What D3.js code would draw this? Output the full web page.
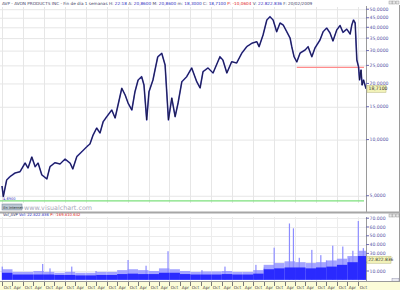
<!DOCTYPE html>
<html>
<head>
<meta charset="utf-8">
<script src="https://cdn.jsdelivr.net/npm/d3@7"></script>
<style>
  body { margin: 0; background: #fff; }
  svg { display: block; font-family: "DejaVu Sans", sans-serif; }
</style>
</head>
<body>
<div id="chart"></div>
<script>
'use strict';

// weekly closes (decimal years / price)
const priceYears = [1991.75,1991.81,1991.97,1992.13,1992.37,1992.61,1992.85,1992.99,1993.17,1993.33,
  1993.47,1993.65,1993.89,1994.04,1994.28,1994.52,1994.76,1995.00,1995.13,1995.32,
  1995.56,1995.80,1995.95,1996.10,1996.27,1996.43,1996.58,1996.75,1996.99,1997.15,
  1997.29,1997.47,1997.63,1997.77,1997.95,1998.10,1998.25,1998.42,1998.53,1998.66,
  1998.77,1998.96,1999.05,1999.19,1999.38,1999.54,1999.70,1999.86,2000.02,2000.16,
  2000.34,2000.57,2000.81,2001.05,2001.21,2001.35,2001.59,2001.83,2002.16,2002.30,
  2002.49,2002.72,2002.96,2003.20,2003.44,2003.68,2003.92,2004.03,2004.22,2004.40,
  2004.55,2004.70,2004.87,2005.03,2005.18,2005.35,2005.51,2005.59,2005.70,2005.83,
  2005.99,2006.23,2006.37,2006.55,2006.70,2006.94,2007.09,2007.26,2007.42,2007.56,
  2007.74,2007.90,2008.04,2008.22,2008.38,2008.46,2008.54,2008.62,2008.70,2008.78,
  2008.83,2008.90,2008.95,2009.02,2009.14];
const priceClose = [5.64,4.95,6.07,6.33,6.62,6.73,7.49,7.04,8.07,7.16,
  7.49,6.46,6.15,7.16,7.52,7.40,7.87,7.49,6.96,8.10,
  8.61,9.16,9.47,10.58,11.54,10.85,12.47,13.27,14.41,13.06,
  15.33,18.84,17.34,15.71,14.41,18.06,20.87,21.74,19.62,12.74,
  18.06,20.87,23.4,27.8,29.02,25.12,12.74,16.7,13.27,15.71,
  20.44,21.74,24.21,20.44,18.91,23.12,24.21,22.76,27.83,26.72,
  22.76,26.16,25.75,29.02,31.49,32.83,33.49,31.49,36.38,43.78,
  45.60,43.78,37.89,42.19,41.16,37.89,35.05,31.49,27.83,26.07,
  29.12,30.23,31.49,27.83,30.99,34.20,37.89,39.66,37.29,33.8,
  38.69,40.9,37.6,39.1,36.8,41.16,43.78,42.19,26.72,24.60,
  20.87,23.62,19.62,20.87,18.71];

// volume (millions of shares): typical level per half year, starting Oct 1991
const volBase = [8,6,6,6,6,5.5,5.5,5,5,5.5,5.5,6.5,7,6.5,6.5,8,8,6.5,6,6,
  6,6.5,6,6,7,12,13,14,14,13,14,15,17,20,27];
const volTop = [12,9,9,10,9,8,9,8,8,9,9,11,12,11,10,13,12,10,9,9.5,
  9.5,10,9,9,11,17,19,21,20,19,20,22,24,27,33];
// single heavy weeks
const spikeYears = [1991.76,1993.69,1994.04,1995.08,1996.24,1997.77,1998.63,1999.68,2001.3,2002.40,
  2003.88,2004.28,2004.75,2005.48,2005.67,2005.95,2006.55,2006.98,2007.25,2007.55,
  2008.03,2008.33,2008.51,2008.77,2009.01];
const spikeVol = [15,18,13,15,10,22.5,16,32.5,11,15,
  17,14,36.5,64,58.5,25,34,28,22,38.8,
  37.8,25,33,66.8,36];

const priceTicks = [5,10,15,20,25,30,35,40,45,50];
const volTicks = [10,20,30,40,50,60,70];
const lastClose = 18.71;
const lastVolume = 22822836;
const supportLevel = 24.4, supportFrom = 2005.83;
const floorLevel = 4.69;

const startDate = new Date(1991, 9, 1);
const endDate = new Date(2009, 1, 20);

function yearToDate(t) {
    let y = Math.floor(t);
    let a = new Date(y, 0, 1), b = new Date(y + 1, 0, 1);
    return new Date(+a + (t - y) * (b - a));
}

const W = 400, H = 290;
const axisX = 366;
const price = { top: 7, bottom: 203 };
const vol = { top: 217, bottom: 281 };

const esLocale = d3.formatLocale({ decimal: ',', thousands: '.', grouping: [3], currency: ['', ''] });
const fmtPrice = esLocale.format(',.4f');
const fmtVol = esLocale.format(',d');

const x = d3.scaleTime().domain([startDate, endDate]).range([2, axisX]);
const y = d3.scaleLog().domain([10, 50]).range([139.6, 9.23]);
const yv = d3.scaleLinear().domain([0, 70]).range([279.8, 218.2]);

const svg = d3.select('#chart').append('svg')
    .attr('width', W).attr('height', H)
    .attr('viewBox', `0 0 ${W} ${H}`);

svg.append('rect').attr('width', W).attr('height', H).attr('fill', '#fff');

const defs = svg.append('defs');
defs.append('clipPath').attr('id', 'clip-price')
  .append('rect').attr('x', 0).attr('y', price.top).attr('width', axisX).attr('height', price.bottom - price.top);
defs.append('clipPath').attr('id', 'clip-vol')
  .append('rect').attr('x', 0).attr('y', vol.top).attr('width', axisX).attr('height', vol.bottom - vol.top);

const octTicks = d3.timeMonths(startDate, endDate, 12);
const halfTicks = d3.timeMonths(startDate, endDate, 6);

// ---- price panel ----
const gp = svg.append('g').attr('class', 'price-panel');

// grid
gp.append('g').attr('class', 'grid-y')
  .selectAll('line').data(priceTicks).join('line')
    .attr('x1', 0).attr('x2', axisX)
    .attr('y1', d => y(d) + 0.5).attr('y2', d => y(d) + 0.5)
    .attr('stroke', '#e6e6e6');
gp.append('g').attr('class', 'grid-x')
  .selectAll('line').data(octTicks).join('line')
    .attr('x1', d => Math.round(x(d)) + 0.5).attr('x2', d => Math.round(x(d)) + 0.5)
    .attr('y1', price.top).attr('y2', price.bottom)
    .attr('stroke', '#e6e6e6');

const plotP = gp.append('g').attr('clip-path', 'url(#clip-price)');

// floor + support lines
plotP.append('line')
    .attr('x1', 0).attr('x2', axisX - 2)
    .attr('y1', y(floorLevel)).attr('y2', y(floorLevel))
    .attr('stroke', '#7de07d').attr('stroke-width', 1.2);
plotP.append('line')
    .attr('x1', x(yearToDate(supportFrom))).attr('x2', axisX - 2)
    .attr('y1', y(supportLevel)).attr('y2', y(supportLevel))
    .attr('stroke', '#ff8c8c').attr('stroke-width', 1.2);

const pts = priceYears.map((t, i) => [yearToDate(t), priceClose[i]]);
const line = d3.line().x(d => x(d[0])).y(d => y(d[1]));

plotP.append('path').datum(pts)
    .attr('d', line).attr('fill', 'none')
    .attr('stroke', '#4646b4').attr('stroke-width', 1.6).attr('stroke-linejoin', 'round');
plotP.append('path').datum(pts)
    .attr('d', line).attr('fill', 'none')
    .attr('stroke', '#0c0c24').attr('stroke-width', 0.7).attr('stroke-linejoin', 'round');

// small marker at the low
gp.append('text')
    .attr('x', 3).attr('y', 199.5)
    .attr('font-size', 3.6).attr('fill', '#4040c0')
    .text(fmtPrice(floorLevel));

// price axis
const axP = gp.append('g').attr('class', 'axis-price');
axP.append('line')
    .attr('x1', axisX + 0.5).attr('x2', axisX + 0.5)
    .attr('y1', price.top - 1).attr('y2', price.bottom + 10)
    .attr('stroke', '#9a9a9a');
const tp = axP.selectAll('g.tick').data(priceTicks).join('g')
    .attr('class', 'tick')
    .attr('transform', d => `translate(${axisX},${y(d)})`);
tp.append('line').attr('x1', 0).attr('x2', 3).attr('stroke', '#6a6ab0');
tp.append('text')
    .attr('x', 3.5).attr('dy', '0.35em')
    .attr('font-size', 4.6).attr('fill', '#5a5aa8')
    .text(d => fmtPrice(d));

// last close label
const lc = axP.append('g').attr('transform', `translate(${axisX + 1},${y(lastClose)})`);
lc.append('rect').attr('x', 0).attr('y', -3.5).attr('width', 19).attr('height', 7)
    .attr('fill', '#f2f2b8').attr('stroke', '#b8b880').attr('stroke-width', 0.5);
lc.append('text').attr('x', 1.5).attr('dy', '0.35em')
    .attr('font-size', 4.6).attr('fill', '#333')
    .text(fmtPrice(lastClose));

// title bar
const title = svg.append('text').attr('x', 2).attr('y', 4.5).attr('font-size', 4.2);
[['AVP - AVON PRODUCTS INC - Fin de día 1 semanas ', '#444466'],
 ['H: ', '#444466'], ['22:18 ', '#3030c0'],
 ['A: ', '#444466'], ['20,8600 ', '#3030c0'],
 ['M: ', '#444466'], ['20,8600 ', '#3030c0'],
 ['m: ', '#444466'], ['18,3000 ', '#3030c0'],
 ['C: ', '#444466'], ['18,7100 ', '#3030c0'],
 ['P: -10,0604 ', '#e02020'],
 ['V: ', '#444466'], ['22.822.836 ', '#3030c0'],
 ['F: 20/02/2009', '#444466']
].forEach(([s, c]) => title.append('tspan').attr('fill', c).text(s));

// window buttons
[389, 392.5, 396].forEach(bx => {
    svg.append('rect').attr('x', bx).attr('y', 1).attr('width', 3).attr('height', 3)
        .attr('fill', '#e8e8e8').attr('stroke', '#888').attr('stroke-width', 0.4);
});
svg.append('line').attr('x1', 399.5).attr('x2', 399.5).attr('y1', 5).attr('y2', 282)
    .attr('stroke', '#9a9a9a');

// "En Internet" button + site text
svg.append('rect').attr('x', 2).attr('y', 204).attr('width', 20).attr('height', 6)
    .attr('fill', '#b9c6d2').attr('stroke', '#6f7f90').attr('stroke-width', 0.5);
svg.append('text').attr('x', 3.2).attr('y', 208.6).attr('font-size', 3.6).attr('fill', '#333')
    .text('En Internet');
svg.append('text').attr('x', 24).attr('y', 209.5).attr('font-size', 6.4).attr('fill', '#a8a8b8')
    .text('www.visualchart.com');

// panel separator
svg.append('rect').attr('x', 0).attr('y', 211.5).attr('width', W).attr('height', 2)
    .attr('fill', '#a6a6a6');

// ---- volume panel ----
const gv = svg.append('g').attr('class', 'vol-panel');

const vt = gv.append('text').attr('x', 3).attr('y', 216.3).attr('font-size', 3.8);
vt.append('tspan').attr('fill', '#333366').text('Vol_AVP ');
vt.append('tspan').attr('fill', '#3030c0').text('Vol: ' + fmtVol(lastVolume) + ' ');
vt.append('tspan').attr('fill', '#e02020').text('P: -169.810.642');

[389, 392.5, 396].forEach(bx => {
    gv.append('rect').attr('x', bx).attr('y', 214).attr('width', 3).attr('height', 3)
        .attr('fill', '#e8e8e8').attr('stroke', '#888').attr('stroke-width', 0.4);
});

gv.append('g').attr('class', 'grid-y')
  .selectAll('line').data(volTicks).join('line')
    .attr('x1', 0).attr('x2', axisX)
    .attr('y1', d => Math.round(yv(d)) + 0.5).attr('y2', d => Math.round(yv(d)) + 0.5)
    .attr('stroke', '#ececec');
gv.append('g').attr('class', 'grid-x')
  .selectAll('line').data(octTicks).join('line')
    .attr('x1', d => Math.round(x(d)) + 0.5).attr('x2', d => Math.round(x(d)) + 0.5)
    .attr('y1', vol.top).attr('y2', vol.bottom)
    .attr('stroke', '#ececec');

const plotV = gv.append('g').attr('clip-path', 'url(#clip-vol)');
const halves = halfTicks.map((d, i) => ({
    x0: d,
    x1: i + 1 < halfTicks.length ? halfTicks[i + 1] : endDate,
    base: volBase[i],
    top: volTop[i]
}));

plotV.selectAll('rect.vol-top').data(halves).join('rect')
    .attr('class', 'vol-top')
    .attr('x', d => x(d.x0)).attr('width', d => x(d.x1) - x(d.x0))
    .attr('y', d => yv(d.top)).attr('height', d => yv(0) - yv(d.top))
    .attr('fill', '#a4a4ff');
const spikes = spikeYears.map((t, i) => ({ date: yearToDate(t), v: spikeVol[i] }));
plotV.selectAll('rect.spike').data(spikes).join('rect')
    .attr('class', 'spike')
    .attr('x', d => x(d.date) - 0.6).attr('width', 1.2)
    .attr('y', d => yv(d.v)).attr('height', d => yv(0) - yv(d.v))
    .attr('fill', '#8c8cff');
plotV.selectAll('rect.vol-base').data(halves).join('rect')
    .attr('class', 'vol-base')
    .attr('x', d => x(d.x0)).attr('width', d => x(d.x1) - x(d.x0))
    .attr('y', d => yv(d.base)).attr('height', d => yv(0) - yv(d.base))
    .attr('fill', '#2a2aff');

// volume axis (the 20.000 label sits under the last-volume box, as in the original)
const axV = gv.append('g').attr('class', 'axis-vol');
axV.append('line')
    .attr('x1', axisX + 0.5).attr('x2', axisX + 0.5)
    .attr('y1', vol.top).attr('y2', vol.bottom)
    .attr('stroke', '#9a9a9a');
const tv = axV.selectAll('g.tick').data(volTicks).join('g')
    .attr('class', 'tick')
    .attr('transform', d => `translate(${axisX},${yv(d)})`);
tv.append('line').attr('x1', 0).attr('x2', 3).attr('stroke', '#6a6ab0');
tv.filter(d => Math.abs(yv(d) - yv(lastVolume / 1e6)) > 5)
  .append('text')
    .attr('x', 3.5).attr('dy', '0.35em')
    .attr('font-size', 4.6).attr('fill', '#5a5aa8')
    .text(d => fmtVol(d * 1000));
const lv = axV.append('g').attr('transform', `translate(${axisX + 1},${yv(lastVolume / 1e6)})`);
lv.append('rect').attr('x', 0).attr('y', -3.5).attr('width', 24).attr('height', 7)
    .attr('fill', '#f2f2b8').attr('stroke', '#b8b880').attr('stroke-width', 0.5);
lv.append('text').attr('x', 1.2).attr('dy', '0.35em')
    .attr('font-size', 4.4).attr('fill', '#333')
    .text(fmtVol(lastVolume));
gv.append('rect').attr('x', 392).attr('y', 278.5).attr('width', 7).attr('height', 3)
    .attr('fill', '#e8e8f0').attr('stroke', '#8080a0').attr('stroke-width', 0.4);

// ---- time axis ----
const gx = svg.append('g').attr('class', 'axis-x');
gx.append('rect').attr('x', 0).attr('y', vol.bottom + 0.5).attr('width', W).attr('height', H - vol.bottom)
    .attr('fill', '#fcfcd8');
gx.append('line').attr('x1', 0).attr('x2', W).attr('y1', vol.bottom + 0.5).attr('y2', vol.bottom + 0.5)
    .attr('stroke', '#9a9a9a');
const tx = gx.selectAll('g.tick').data(halfTicks).join('g')
    .attr('class', 'tick')
    .attr('transform', d => `translate(${Math.round(x(d)) + 0.5},${vol.bottom})`);
tx.append('line').attr('y1', 1).attr('y2', 5).attr('stroke', '#777');
tx.append('text').attr('x', 1.3).attr('y', 7.6)
    .attr('font-size', 4.2).attr('fill', '#444')
    .text(d => d.getMonth() === 9 ? 'Oct' : 'Apr');
</script>
</body>
</html>
